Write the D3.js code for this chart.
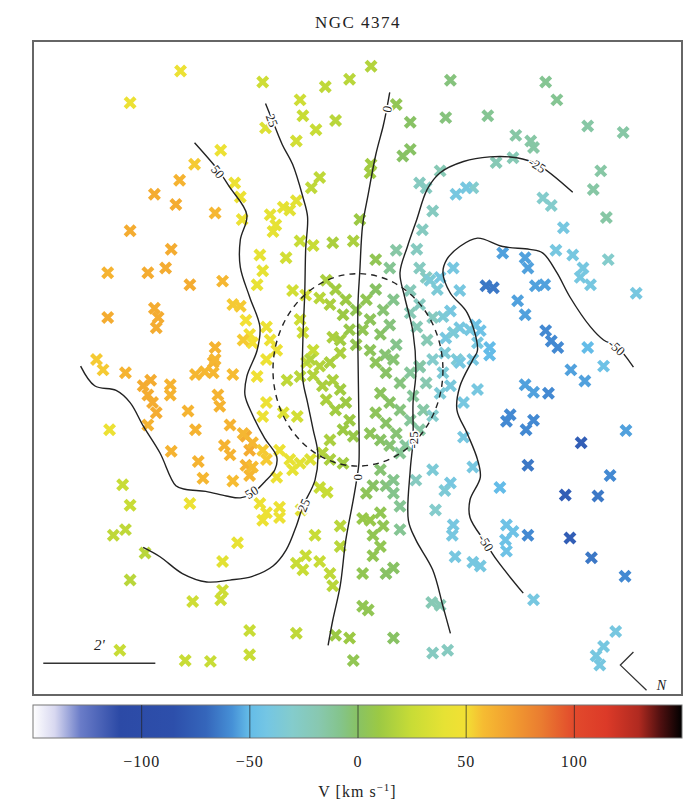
<!DOCTYPE html>
<html lang="en">
<head>
<meta charset="UTF-8">
<title>NGC 4374</title>
<script src="https://d3js.org/d3.v7.min.js"></script>
<style>
    body { margin: 0; padding: 0; background: #fff; }
    svg { display: block; }
    text { font-family: "Liberation Serif", "DejaVu Serif", serif; fill: #222; }
    .frame { fill: none; stroke: #666; stroke-width: 2; }
    .contour { fill: none; stroke: #222; stroke-width: 1.4; }
    .ring { fill: none; stroke: #222; stroke-width: 1.4; stroke-dasharray: 6,5; }
    .clabel { font-size: 13px; paint-order: stroke; stroke: #fff; stroke-width: 3px; text-anchor: middle; dominant-baseline: central; }
    .cbar .tick line { stroke: #222; stroke-opacity: 0.7; }
    .cbar .tick text { font-size: 16px; letter-spacing: 1px; }
</style>
</head>
<body>
<svg width="684" height="806"></svg>
<script>
// tracer positions: offsets from galaxy centre in arcsec, velocity in km/s
const tracers = [
    [-190,320,45],[-244,286,45],[-147,235,45],[-175,220,55],[-191,203,62],[-218,188,65],[-195,177,65],[-153,168,60],
    [-244,149,65],[-200,129,65],[-206,109,65],[-268,104,62],[-225,104,65],[-180,91,65],[-145,95,60],[-134,70,55],
    [-268,56,65],[-218,66,65],[-214,56,65],[-216,45,65],[-153,24,62],[-132,200,45],[-126,185,45],[-124,161,45],
    [-120,53,50],[-116,38,50],[-126,68,55],[-113,29,50],[-155,8,62],[-280,11,55],[-273,0,55],[-249,-3,62],
    [-230,-17,65],[-222,-11,65],[-225,-27,65],[-220,-35,65],[-216,-46,65],[-201,-16,62],[-201,-27,62],[-174,-5,60],
    [-155,-3,60],[-153,11,60],[-134,-5,58],[-182,-44,62],[-150,-27,62],[-148,-39,62],[-266,-64,45],[-225,-59,62],
    [-174,-64,62],[-137,-59,62],[-120,-71,65],[-116,-86,65],[-200,-87,62],[-143,-81,62],[-137,-91,62],[-171,-98,62],
    [-166,-116,60],[-134,-119,58],[-120,-102,62],[-116,-113,60],[-252,-123,25],[-244,-145,25],[-262,-177,22],[-249,-171,22],
    [-180,-143,45],[-228,-196,20],[-244,-225,20],[-129,-185,42],[-145,-205,38],[-145,-236,28],[-147,-246,28],[-177,-248,28],
    [-255,-300,25],[-185,-311,25],[-158,-312,25],[-116,-279,25],[-116,-305,25],[-108,-7,48],[-98,-35,45],[-102,-50,45],
    [-113,-78,60],[-102,-86,55],[-98,-96,55],[-113,-104,58],[-123,-68,60],[-123,32,55],[-164,-2,60],
    [-102,308,28],[-35,303,22],[-9,311,20],[14,325,18],[-62,289,28],[-59,272,25],[-45,257,25],[-24,267,20],
    [-99,259,35],[-66,245,30],[-41,206,22],[-50,195,22],[-94,166,40],[-88,155,40],[-80,174,40],[-66,181,38],
    [-73,171,38],[-91,148,40],[-62,138,25],[-48,133,25],[-77,120,30],[-27,136,15],[-5,138,15],[-105,123,40],
    [-102,106,40],[-108,91,42],[-70,85,30],[-56,80,30],[-62,54,28],[-59,40,28],[-48,21,25],[-55,8,25],
    [-98,46,45],[-94,32,45],[-87,21,45],[-98,11,45],[2,161,10],[14,220,12],[13,211,12],
    [99,310,-5],[41,284,5],[56,265,0],[94,270,-5],[56,236,0],[48,229,0],[139,272,-10],[201,308,-10],
    [213,289,-10],[246,261,-15],[284,254,-15],[169,251,-15],[185,245,-15],[188,238,-15],[148,222,-20],[166,227,-20],
    [123,195,-30],[260,213,-15],[252,193,-15],[266,163,-15],[198,184,-30],[207,176,-30],[220,152,-40],[73,195,-25],
    [66,200,-25],[80,170,-25],[105,188,-40],[116,195,-40],[88,213,-20],[69,150,-25],[63,129,-25],[19,118,5],
    [34,109,-10],[66,109,-25],[73,99,-25],[56,85,-22],[41,128,-15],
    [212,128,-40],[230,123,-40],[241,109,-40],[238,99,-40],[249,91,-40],[268,118,-30],[298,82,-40],[155,125,-55],
    [179,120,-55],[182,109,-55],[137,90,-65],[145,88,-65],[190,90,-55],[200,91,-55],[171,74,-55],[179,59,-55],
    [126,48,-45],[131,42,-45],[201,42,-60],[207,31,-60],[214,24,-60],[246,24,-50],[141,24,-50],[88,99,-40],
    [102,109,-40],[109,85,-40],[77,96,-35],[85,86,-35],[99,63,-40],[109,45,-40],[94,34,-40],[120,43,-40],
    [128,29,-40],[123,11,-40],[91,57,-35],[102,40,-35],[93,18,-35],[106,11,-35],[56,61,-20],[63,46,-20],
    [74,32,-20],[66,3,-20],[66,70,-25],[80,56,-25],[179,-16,-55],[188,-24,-55],[204,-25,-60],[228,0,-55],
    [243,-12,-55],[263,4,-45],[159,-55,-60],[163,-48,-60],[180,-64,-60],[188,-54,-60],[287,-65,-55],[239,-78,-75],
    [182,-102,-65],[270,-113,-60],[152,-126,-50],[222,-134,-75],[257,-135,-65],[159,-166,-45],[166,-173,-45],[158,-182,-45],
    [159,-194,-45],[182,-177,-60],[227,-180,-75],[250,-201,-65],[286,-221,-60],[131,-210,-40],[188,-246,-40],[276,-280,-40],
    [263,-296,-40],[255,-306,-40],[259,-316,-40],[128,-21,-40],[113,-35,-40],[113,-72,-40],[123,-104,-40],[80,-107,-35],
    [99,-121,-40],[93,-129,-35],[83,-150,-30],[102,-166,-40],[101,-177,-40],[104,-200,-40],[123,-206,-40],[79,-249,-20],
    [88,-252,-20],[80,-303,-25],[96,-300,-25],[141,16,-50],
    [-34,96,15],[-24,86,12],[-13,75,10],[-30,70,15],[-16,59,10],[-2,64,5],[9,75,5],[19,86,0],
    [13,54,3],[27,64,-3],[38,75,-8],[5,43,5],[24,38,0],[34,48,-5],[41,27,-8],[-9,43,8],
    [-19,32,12],[-2,27,6],[13,21,3],[29,16,-3],[-41,77,20],[-27,35,15],[-19,18,15],[-51,11,18],
    [-41,4,18],[-30,8,15],[-48,-6,18],[-38,-17,15],[-27,-11,15],[-19,-21,12],[-34,-32,15],[-24,-43,12],
    [-13,-35,10],[-9,-54,10],[-16,-64,10],[-5,-71,8],[-30,-75,15],[-38,-89,18],[-30,-96,15],[-16,-100,12],
    [19,8,3],[30,-3,0],[38,11,-3],[45,-14,-5],[24,-25,2],[34,-35,0],[45,-43,-5],[19,-46,3],
    [30,-57,0],[41,-68,-3],[24,-75,0],[34,-81,-3],[13,-68,3],[56,-3,-12],[66,4,-15],[73,-14,-18],
    [59,-28,-12],[70,-43,-15],[56,-54,-12],[66,-64,-15],[51,-81,-12],[45,-89,-10],[80,11,-30],[91,-3,-35],
    [88,-25,-35],[99,-17,-38],[109,8,-40],[80,-49,-30],[24,-107,-3],[30,-124,-5],[38,-118,-8],[16,-124,0],
    [9,-132,3],[38,-132,-8],[-76,-11,22],[-62,-7,20],[-80,-46,35],[-65,-50,30],[-84,-86,45],[-73,-96,42],
    [-62,-100,38],[-51,-96,35],[-70,-107,40],[-41,-126,25],[-33,-131,25],[-87,-115,45],[-105,-143,45],[-98,-153,45],
    [-84,-147,45],[-84,-158,45],[-102,-161,45],[-61,-150,38],[-19,-167,20],[-46,-177,25],[-66,-207,25],[-56,-199,25],
    [-59,-214,25],[-41,-205,25],[-30,-218,22],[-27,-231,20],[-19,-189,20],[5,-159,8],[13,-161,8],[24,-153,5],
    [27,-167,5],[16,-177,5],[24,-189,5],[16,-199,5],[45,-146,-10],[45,-171,-10],[38,-212,0],[30,-218,0],
    [5,-218,5],[5,-253,5],[11,-257,5],[-66,-282,22],[-24,-284,10],[-9,-287,10],[-5,-311,5],[38,-287,0],
    [62,-118,-25]
];

// smoothed velocity field contours (arcsec)
const contour50 = [[-175,243],[-150,214],[-137,195],[-119,166],[-126,139],[-126,110],[-116,78],[-105,46],[-108,21],[-119,-7],
    [-121,-27],[-113,-48],[-100,-73],[-87,-93],[-89,-107],[-100,-120],[-114,-133],[-126,-137],[-141,-135],[-163,-130],
    [-184,-128],[-195,-124],[-212,-89],[-230,-60],[-244,-35],[-259,-22],[-282,-17],[-297,4]];
const contour25 = [[-99,285],[-92,268],[-81,241],[-70,220],[-59,185],[-54,164],[-56,129],[-57,82],[-59,32],[-59,-11],
    [-54,-35],[-48,-64],[-43,-89],[-46,-118],[-59,-146],[-66,-167],[-77,-193],[-91,-210],[-113,-221],[-137,-225],
    [-162,-227],[-188,-218],[-212,-200],[-230,-190]];
const contour0 = [[34,297],[30,275],[27,261],[19,230],[11,188],[5,155],[2,106],[0,70],[0,18],[1,-54],[1,-100],
    [-1,-115],[-5,-139],[-13,-182],[-19,-231],[-27,-268],[-32,-295]];
const contourM25 = [[230,190],[192,220],[170,227],[141,228],[113,223],[88,211],[74,193],[63,161],[53,132],[45,104],
    [50,78],[59,40],[62,-3],[59,-35],[59,-75],[56,-107],[54,-161],[62,-182],[80,-214],[91,-253],[99,-282]];
const contourM50 = [[177,-239],[149,-204],[136,-184],[120,-158],[120,-139],[131,-115],[128,-96],[117,-68],[106,-43],
    [109,-18],[123,11],[128,21],[117,61],[99,82],[91,104],[95,118],[109,132],[128,141],[155,132],[184,129],[198,125],
    [213,104],[227,78],[249,46],[263,32],[277,25],[295,3]];
const contours = [contour50, contour25, contour0, contourM25, contourM50];

// contour labels: text, x, y (arcsec), angle
const contourLabels = [
    ["50",-150,212,52],["25",-92,267,69],["0",31,279,-78],["-25",192,219,32],["-50",277,24,42],
    ["-50",137,-185,58],["50",-114,-131,-33],["25",-58,-145,-68],["0",-1,-115,-90],["-25",60,-75,-90]
];

// colour table of the velocity bar
const velStops = [-150,-140,-128,-110,-85,-70,-58,-50,-42,-30,-18,-8,0,10,25,40,50,58,70,85,100,115,130,140,150];
const velColours = ["#ffffff","#d8d8f0","#6a7cc8","#2c4aa6","#2d4fab","#3566bb","#4690d6","#64bce8","#74c6e4",
    "#84cccc","#88c8b0","#84c48c","#88c264","#9cc944","#c8dc36","#e6e234","#f2e034","#f6bc32","#f2a030",
    "#ea7c30","#e24a2c","#dc3a28","#b02a20","#501010","#000000"];
const barTicks = [-100, -50, 0, 50, 100];

const svg = d3.select("svg");
const plot = { left: 33, right: 682, top: 41, bottom: 695 };
const bar = { top: 705, bottom: 738 };

const x = d3.scaleLinear().domain([-348, 347]).range([plot.left, plot.right]);
const y = d3.scaleLinear().domain([-348, 352]).range([plot.bottom, plot.top]);
const colour = d3.scaleLinear().domain(velStops).range(velColours).clamp(true);
const vx = d3.scaleLinear().domain([-150, 150]).range([plot.left, plot.right]);

// title
svg.append("text")
    .attr("x", x(0))
    .attr("y", 28)
    .attr("text-anchor", "middle")
    .attr("font-size", 17)
    .attr("letter-spacing", 1.5)
    .text("NGC 4374");

// tracers
const cross = "M-5,-5L5,5M-5,5L5,-5";
svg.append("g")
    .selectAll("path")
    .data(tracers)
    .join("path")
    .attr("d", cross)
    .attr("transform", d => `translate(${x(d[0])},${y(d[1])})`)
    .attr("fill", "none")
    .attr("stroke", d => colour(d[2]))
    .attr("stroke-width", 4.2);

// contours
const line = d3.line()
    .x(d => x(d[0]))
    .y(d => y(d[1]))
    .curve(d3.curveCatmullRom.alpha(0.5));

svg.append("g")
    .selectAll("path")
    .data(contours)
    .join("path")
    .attr("class", "contour")
    .attr("d", line);

// effective radius
svg.append("ellipse")
    .attr("class", "ring")
    .attr("cx", x(0))
    .attr("cy", y(0))
    .attr("rx", x(91) - x(0))
    .attr("ry", y(0) - y(103));

svg.append("g")
    .selectAll("text")
    .data(contourLabels)
    .join("text")
    .attr("class", "clabel")
    .attr("transform", d => `translate(${x(d[1])},${y(d[2])}) rotate(${d[3]})`)
    .text(d => d[0]);

// scale bar and orientation
svg.append("line")
    .attr("x1", x(-337)).attr("x2", x(-217))
    .attr("y1", y(-314)).attr("y2", y(-314))
    .attr("stroke", "#333").attr("stroke-width", 1.3);
svg.append("text")
    .attr("x", x(-277)).attr("y", y(-300))
    .attr("text-anchor", "middle")
    .attr("font-size", 15)
    .attr("font-style", "italic")
    .text("2'");

svg.append("path")
    .attr("d", d3.line()([[x(295), y(-302)], [x(281), y(-316)], [x(309), y(-343)]]))
    .attr("fill", "none")
    .attr("stroke", "#333")
    .attr("stroke-width", 1.3);
svg.append("text")
    .attr("x", x(320)).attr("y", y(-343))
    .attr("font-size", 14)
    .attr("font-style", "italic")
    .text("N");

svg.append("rect")
    .attr("class", "frame")
    .attr("x", plot.left)
    .attr("y", plot.top)
    .attr("width", plot.right - plot.left)
    .attr("height", plot.bottom - plot.top);

// colour bar
const grad = svg.append("defs").append("linearGradient")
    .attr("id", "vgrad");
grad.selectAll("stop")
    .data(velStops)
    .join("stop")
    .attr("offset", d => (d + 150) / 300)
    .attr("stop-color", d => colour(d));

svg.append("rect")
    .attr("x", plot.left)
    .attr("y", bar.top)
    .attr("width", plot.right - plot.left)
    .attr("height", bar.bottom - bar.top)
    .attr("fill", "url(#vgrad)")
    .attr("stroke", "#777");

svg.append("g")
    .attr("class", "cbar")
    .attr("transform", `translate(0,${bar.bottom})`)
    .call(d3.axisBottom(vx)
        .tickValues(barTicks)
        .tickSizeInner(-(bar.bottom - bar.top))
        .tickSizeOuter(0)
        .tickPadding(18)
        .tickFormat(d => d < 0 ? "\u2212" + Math.abs(d) : d))
    .call(g => g.select(".domain").remove())
    .call(g => g.selectAll("text").attr("font-family", null));

const xlab = svg.append("text")
    .attr("x", vx(0))
    .attr("y", 797)
    .attr("text-anchor", "middle")
    .attr("font-size", 16)
    .attr("letter-spacing", 1);
xlab.append("tspan").text("V [km s");
xlab.append("tspan").attr("dy", -6).attr("font-size", 11).text("\u22121");
xlab.append("tspan").attr("dy", 6).text("]");
</script>
</body>
</html>
